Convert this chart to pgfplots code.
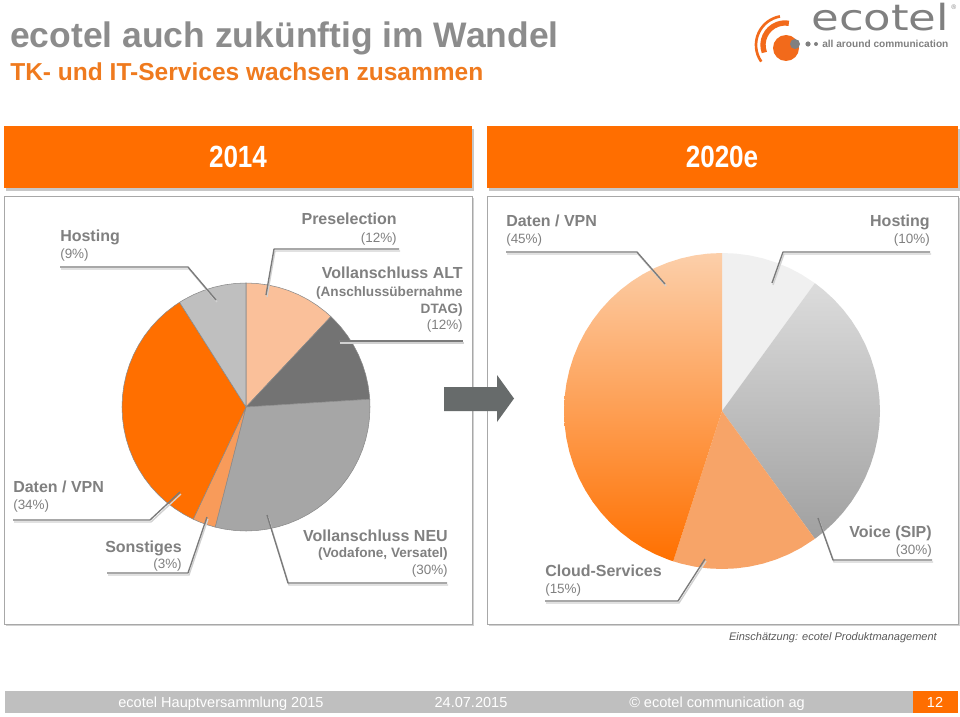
\documentclass[border=0pt]{standalone}
\usepackage{fontspec}
\setmainfont{Liberation Sans}
\newfontfamily\logofont{DejaVu Sans}
\usepackage{pgfplots}
\pgfplotsset{compat=1.18}
\definecolor{titlegray}{HTML}{8C8C8C}
\definecolor{suborange}{HTML}{EF7A1E}
\definecolor{lblgray}{HTML}{808080}
\definecolor{linegray}{HTML}{7A7A7A}
\definecolor{hdrorange}{HTML}{FF6E00}
\definecolor{boxgray}{HTML}{A8A8A8}
\definecolor{footgray}{HTML}{BFBFBF}
\definecolor{arrowgray}{HTML}{676B6B}
\definecolor{logoorange}{HTML}{F26A1B}
% pie 2014
\definecolor{aPre}{HTML}{FAC09A}
\definecolor{aAlt}{HTML}{737373}
\definecolor{aNeu}{HTML}{A6A6A6}
\definecolor{aSon}{HTML}{F89B5A}
\definecolor{aDat}{HTML}{FF6F00}
\definecolor{aHos}{HTML}{BFBFBF}
% pie 2020e
\definecolor{bHos}{HTML}{F0F0F0}
\definecolor{bVoiTop}{HTML}{DCDCDC}
\definecolor{bVoiBot}{HTML}{A0A0A0}
\definecolor{bClo}{HTML}{F7A468}
\definecolor{bDatTop}{HTML}{FCCFAA}
\definecolor{bDatBot}{HTML}{FF7000}
\newcommand{\lbl}{\fontsize{12}{14}\selectfont\bfseries}
\newcommand{\sublbl}{\fontsize{10.2}{12}\selectfont\bfseries}
\newcommand{\pct}{\fontsize{10.1}{12}\selectfont}
\begin{document}
\begin{tikzpicture}
\path[use as bounding box] (0pt,0pt) rectangle (720pt,-537.75pt);
\begin{scope}[x=0.75pt,y=-0.75pt]
  % titles
  \node[anchor=base west, inner sep=0, text=titlegray, font=\fontsize{26.6}{30}\selectfont\bfseries] at (10,48) {ecotel auch zukünftig im Wandel};
  \node[anchor=base west, inner sep=0, text=suborange, font=\fontsize{18.4}{22}\selectfont\bfseries] at (10,80) {TK- und IT-Services wachsen zusammen};
  % logo
  \draw[logoorange, line width=4pt] (785,45) ++(-200:22) arc[start angle=-200, end angle=-80, radius=22];
  \draw[logoorange, line width=2pt] (785,45) ++(-215:29) arc[start angle=-215, end angle=-100, radius=29];
  \fill[logoorange] (786,48) circle[radius=13];
  \fill[lblgray] (795,44) circle[radius=5];
  \fill[lblgray] (808,44) circle[radius=2.6];
  \fill[lblgray] (816,44) circle[radius=2];
  \node[anchor=base west, inner sep=0, text=lblgray, font=\logofont\fontsize{27}{30}\selectfont, xscale=1.25] at (811,31) {ecotel};
  \node[anchor=base west, inner sep=0, text=lblgray, font=\fontsize{5}{6}\selectfont] at (951,10) {®};
  \node[anchor=base west, inner sep=0, text=lblgray, font=\fontsize{7.6}{9}\selectfont\bfseries] at (822,48) {all around communication};
  % headers
  \fill[black!22] (6,129) rectangle (474,191);
  \fill[hdrorange] (4,126) rectangle (472,188);
  \fill[black!22] (489,129) rectangle (960,191);
  \fill[hdrorange] (487,126) rectangle (958,188);
  \node[text=white, font=\fontsize{23}{26}\selectfont\bfseries, xscale=0.85, inner sep=0] at (238,157) {2014};
  \node[text=white, font=\fontsize{23}{26}\selectfont\bfseries, xscale=0.85, inner sep=0] at (722,157) {2020e};
  % boxes
  \fill[black!18] (6,198) rectangle (474,626);
  \filldraw[fill=white, draw=boxgray, line width=0.7pt] (4,196) rectangle (472,624);
  \fill[black!18] (489,198) rectangle (960,626);
  \filldraw[fill=white, draw=boxgray, line width=0.7pt] (487,196) rectangle (958,624);
  % footer
  \fill[footgray] (5,691) rectangle (913,713);
  \fill[hdrorange] (913,691) rectangle (958,713);
  \node[anchor=base, inner sep=0, text=white, font=\fontsize{10.9}{12}\selectfont] at (221,707) {ecotel Hauptversammlung 2015};
  \node[anchor=base, inner sep=0, text=white, font=\fontsize{10.9}{12}\selectfont] at (471,707) {24.07.2015};
  \node[anchor=base, inner sep=0, text=white, font=\fontsize{10.9}{12}\selectfont] at (717,707) {© ecotel communication ag};
  \node[anchor=base, inner sep=0, text=white, font=\fontsize{10.9}{12}\selectfont] at (935,707) {12};
  % source note
  \node[anchor=base east, inner sep=0, text=black!65, font=\fontsize{8.25}{10}\selectfont\itshape] at (937,640) {Einschätzung: ecotel Produktmanagement};
\end{scope}

% ---------- Pie 2014 (shares in %: 12,12,30,3,34,9) ----------
\begin{axis}[at={(184.5pt,-305.25pt)}, anchor=center, hide axis,
  x=0.75pt, y=0.75pt, xmin=-130, xmax=130, ymin=-130, ymax=130,
  clip=false, no markers,
  every axis plot/.append style={data cs=polar, line join=round, draw={rgb,255:red,138;green,138;blue,138}, line width=0.4pt}]
% Preselection 12%
\addplot[fill=aPre] coordinates {(0,0) (90,124) (85,124) (80,124) (75,124) (70,124) (65,124) (60,124) (55,124) (50,124) (46.8,124) (0,0)};
% Vollanschluss ALT 12%
\addplot[fill=aAlt] coordinates {(0,0) (46.8,124) (45,124) (40,124) (35,124) (30,124) (25,124) (20,124) (15,124) (10,124) (5,124) (3.6,124) (0,0)};
% Vollanschluss NEU 30%
\addplot[fill=aNeu] coordinates {(0,0) (3.6,124) (0,124) (-5,124) (-10,124) (-15,124) (-20,124) (-25,124) (-30,124) (-35,124) (-40,124) (-45,124) (-50,124) (-55,124) (-60,124) (-65,124) (-70,124) (-75,124) (-80,124) (-85,124) (-90,124) (-95,124) (-100,124) (-104.4,124) (0,0)};
% Sonstiges 3%
\addplot[fill=aSon] coordinates {(0,0) (-104.4,124) (-108,124) (-112,124) (-115.2,124) (0,0)};
% Daten / VPN 34%
\addplot[fill=aDat] coordinates {(0,0) (-115.2,124) (-120,124) (-125,124) (-130,124) (-135,124) (-140,124) (-145,124) (-150,124) (-155,124) (-160,124) (-165,124) (-170,124) (-175,124) (-180,124) (-185,124) (-190,124) (-195,124) (-200,124) (-205,124) (-210,124) (-215,124) (-220,124) (-225,124) (-230,124) (-235,124) (-237.6,124) (0,0)};
% Hosting 9%
\addplot[fill=aHos] coordinates {(0,0) (-237.6,124) (-240,124) (-245,124) (-250,124) (-255,124) (-260,124) (-265,124) (-270,124) (0,0)};
\end{axis}

% ---------- Pie 2020e (shares in %: 10,30,15,45) ----------
\begin{axis}[at={(541.5pt,-308.25pt)}, anchor=center, hide axis,
  x=0.75pt, y=0.75pt, xmin=-165, xmax=165, ymin=-165, ymax=165,
  clip=false, no markers,
  every axis plot/.append style={data cs=polar, line join=round, draw=none}]
% Hosting 10%
\addplot[fill=bHos] coordinates {(0,0) (90,158) (85,158) (80,158) (75,158) (70,158) (65,158) (60,158) (54,158) (0,0)};
% Voice (SIP) 30%
\addplot[top color=bVoiTop, bottom color=bVoiBot] coordinates {(0,0) (54,158) (50,158) (45,158) (40,158) (35,158) (30,158) (25,158) (20,158) (15,158) (10,158) (5,158) (0,158) (-5,158) (-10,158) (-15,158) (-20,158) (-25,158) (-30,158) (-35,158) (-40,158) (-45,158) (-50,158) (-54,158) (0,0)};
% Cloud-Services 15%
\addplot[fill=bClo] coordinates {(0,0) (-54,158) (-60,158) (-65,158) (-70,158) (-75,158) (-80,158) (-85,158) (-90,158) (-95,158) (-100,158) (-105,158) (-108,158) (0,0)};
% Daten / VPN 45%
\addplot[top color=bDatTop, bottom color=bDatBot] coordinates {(0,0) (-108,158) (-110,158) (-115,158) (-120,158) (-125,158) (-130,158) (-135,158) (-140,158) (-145,158) (-150,158) (-155,158) (-160,158) (-165,158) (-170,158) (-175,158) (-180,158) (-185,158) (-190,158) (-195,158) (-200,158) (-205,158) (-210,158) (-215,158) (-220,158) (-225,158) (-230,158) (-235,158) (-240,158) (-245,158) (-250,158) (-255,158) (-260,158) (-265,158) (-270,158) (0,0)};
\end{axis}

\begin{scope}[x=0.75pt,y=-0.75pt]
  % leader line shadows
  \begin{scope}[draw=black!18, line width=1pt, shift={(1,2)}]
    \draw (60,267) -- (188,267) -- (216,300);
    \draw (399,249) -- (274,249) -- (266,295);
    \draw (463,341) -- (339,341);
    \draw (13,520) -- (150,520) -- (180,492);
    \draw (107,573) -- (188,573) -- (207,517);
    \draw (447,583) -- (288,583) -- (267,515);
    \draw (506,252) -- (637,252) -- (665,284);
    \draw (930,252) -- (783,252) -- (772,283);
    \draw (932,560) -- (833,560) -- (818,518);
    \draw (545,601) -- (678,601) -- (705,559);
  \end{scope}
  \begin{scope}[draw=linegray, line width=1pt, line join=round]
    \draw (60,267) -- (188,267) -- (216,300);
    \draw (399,249) -- (274,249) -- (266,295);
    \draw (463,341) -- (339,341);
    \draw (13,520) -- (150,520) -- (180,492);
    \draw (107,573) -- (188,573) -- (207,517);
    \draw (447,583) -- (288,583) -- (267,515);
    \draw (506,252) -- (637,252) -- (665,284);
    \draw (930,252) -- (783,252) -- (772,283);
    \draw (932,560) -- (833,560) -- (818,518);
    \draw (545,601) -- (678,601) -- (705,559);
  \end{scope}
  \begin{scope}[every node/.style={inner sep=0, text=lblgray}]
    % pie 2014 labels
    \node[anchor=base west, font=\lbl] at (60,241) {Hosting};
    \node[anchor=base west, font=\pct] at (60,258) {(9\%)};
    \node[anchor=base east, font=\lbl] at (397,224) {Preselection};
    \node[anchor=base east, font=\pct] at (397,242) {(12\%)};
    \node[anchor=base east, font=\lbl] at (463,278) {Vollanschluss ALT};
    \node[anchor=base east, font=\sublbl] at (463,296) {(Anschlussübernahme};
    \node[anchor=base east, font=\sublbl] at (463,313) {DTAG)};
    \node[anchor=base east, font=\pct] at (463,329) {(12\%)};
    \node[anchor=base west, font=\lbl] at (13,492) {Daten / VPN};
    \node[anchor=base west, font=\pct] at (13,509) {(34\%)};
    \node[anchor=base east, font=\lbl] at (182,552) {Sonstiges};
    \node[anchor=base east, font=\pct] at (182,568) {(3\%)};
    \node[anchor=base east, font=\lbl] at (448,541) {Vollanschluss NEU};
    \node[anchor=base east, font=\sublbl] at (448,557) {(Vodafone, Versatel)};
    \node[anchor=base east, font=\pct] at (448,574) {(30\%)};
    % pie 2020e labels
    \node[anchor=base west, font=\lbl] at (506,226) {Daten / VPN};
    \node[anchor=base west, font=\pct] at (506,243) {(45\%)};
    \node[anchor=base east, font=\lbl] at (930,226) {Hosting};
    \node[anchor=base east, font=\pct] at (930,243) {(10\%)};
    \node[anchor=base east, font=\lbl] at (932,537) {Voice (SIP)};
    \node[anchor=base east, font=\pct] at (932,554) {(30\%)};
    \node[anchor=base west, font=\lbl] at (545,576) {Cloud-Services};
    \node[anchor=base west, font=\pct] at (545,593) {(15\%)};
  \end{scope}
  % arrow
  \fill[arrowgray] (444,387) -- (497,387) -- (497,375) -- (514,398.5) -- (497,422) -- (497,411) -- (444,411) -- cycle;
\end{scope}
\end{tikzpicture}
\end{document}
